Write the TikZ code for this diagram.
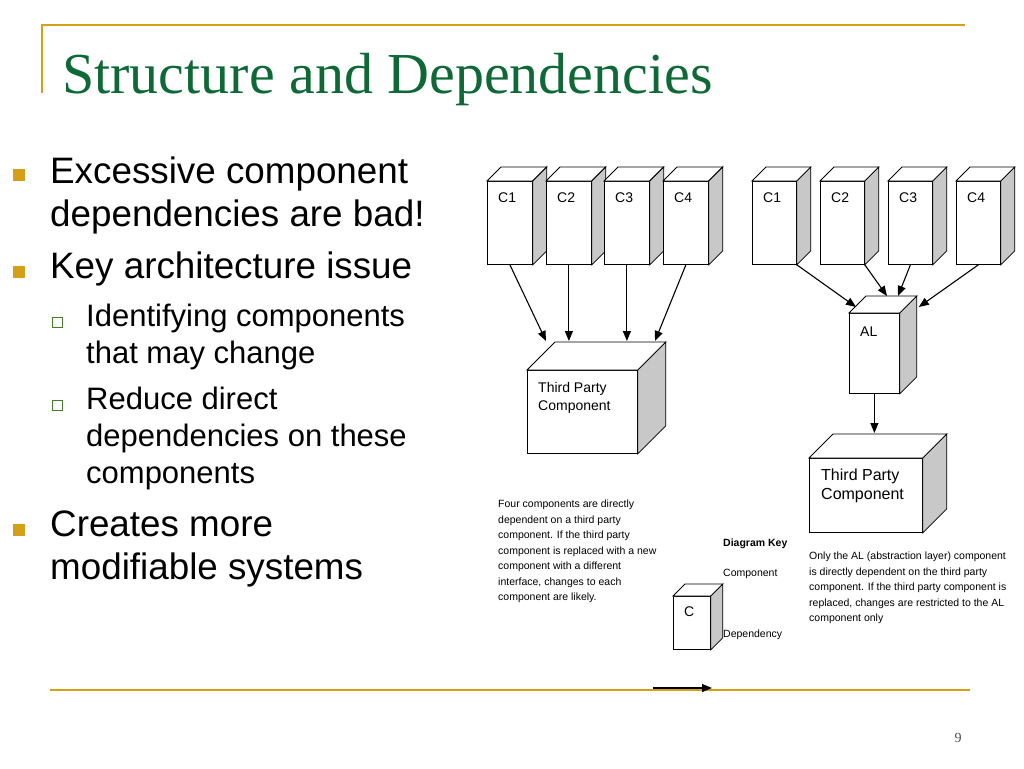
\documentclass[tikz,border=0pt]{standalone}
\usepackage{fontspec}
\setmainfont{Liberation Sans}
\newfontfamily\serifface{Liberation Serif}
\usetikzlibrary{positioning,calc,arrows.meta}

\definecolor{slidegold}{RGB}{212,160,23}
\definecolor{titlegreen}{RGB}{15,105,55}
\definecolor{subgreen}{RGB}{70,125,45}
\definecolor{sidegray}{RGB}{200,200,200}

\tikzset{
  front/.style={draw, fill=white, line width=0.8pt, anchor=north west, inner sep=0pt},
  sideface/.style={draw, fill=sidegray, line width=0.8pt},
  topface/.style={draw, fill=white, line width=0.8pt},
  dep/.style={-{Triangle[length=10pt,width=8pt]}, line width=1.1pt},
  boxtxt/.style={anchor=north west, inner sep=0pt, align=left, font=\fontsize{14}{18}\selectfont},
  note/.style={anchor=north west, inner sep=0pt, align=left, font=\fontsize{10.5}{15.5}\selectfont},
  bigitem/.style={anchor=base west, inner sep=0pt, align=left, font=\fontsize{36.8}{43}\selectfont},
  subitem/.style={anchor=base west, inner sep=0pt, align=left, font=\fontsize{31}{37}\selectfont},
  goldsq/.style={fill=slidegold, minimum size=12pt, inner sep=0pt},
  greensq/.style={draw=subgreen, fill=white, line width=1pt, minimum size=10pt, inner sep=0pt},
}

% top and side of a component box
\newcommand{\faces}[2]{%
  \draw[topface] (#1.north west) -- ++(#2,-#2) -- ($(#1.north east)+(#2,-#2)$) -- (#1.north east) -- cycle;
  \draw[sideface] (#1.north east) -- ++(#2,-#2) -- ($(#1.south east)+(#2,-#2)$) -- (#1.south east) -- cycle;
}

\begin{document}
\begin{tikzpicture}[x=1pt, y=-1pt]
    \useasboundingbox (0,0) rectangle (1024,768);

    % slide frame and title
    \draw[slidegold, line width=2pt] (965,25) -- (42,25) -- (42,93);
    \draw[slidegold, line width=2pt] (50,690) -- (970,690);
    \node[anchor=base west, inner sep=0pt, text=titlegreen, font=\serifface\fontsize{58}{60}\selectfont] (title) at (62,93) {Structure and Dependencies};

    % bullets (base = last line)
    \node[goldsq] (b1) at (19,175) {};
    \node[bigitem] (t1) at (50,226) {Excessive component\\dependencies are bad!};
    \node[goldsq] (b2) at (19,272) {};
    \node[bigitem] (t2) at (50,278) {Key architecture issue};
    \node[greensq] (s1) at (57,322) {};
    \node[subitem] (u1) at (86,363) {Identifying components\\that may change};
    \node[greensq] (s2) at (57,405) {};
    \node[subitem] (u2) at (86,483) {Reduce direct\\dependencies on these\\components};
    \node[goldsq] (b3) at (19,530) {};
    \node[bigitem] (t3) at (50,579) {Creates more\\modifiable systems};

    % direct dependencies
    \foreach \i/\x in {1/487,2/546,3/604,4/663}{
        \node[front, minimum width=45pt, minimum height=83pt] (l\i) at (\x,181) {};
        \faces{l\i}{14}
        \node[boxtxt] (l\i txt) at ($(l\i.north west)+(11,12)$) {C\i};
    }
    \node[front, minimum width=110pt, minimum height=83pt] (tpl) at (527,370) {};
    \faces{tpl}{28}
    \node[boxtxt] (tpltxt) at ($(tpl.north west)+(11,12)$) {Third Party\\Component};

    \coordinate (tplback) at ($(tpl.north west)+(0,-29)$);
    \coordinate (tplin1) at ($(tpl.north west)+(19,-29)$);
    \coordinate (tplin4) at ($(tpl.north west)+(128,-29)$);
    \draw[dep] (l1.south) -- (tplin1);
    \draw[dep] (l2.south) -- (l2.south |- tplback);
    \draw[dep] (l3.south) -- (l3.south |- tplback);
    \draw[dep] (l4.south) -- (tplin4);

    % through the abstraction layer
    \foreach \i/\x in {1/752,2/820,3/888,4/956}{
        \node[front, minimum width=44pt, minimum height=83pt] (r\i) at (\x,181) {};
        \faces{r\i}{14}
        \node[boxtxt] (r\i txt) at ($(r\i.north west)+(11,12)$) {C\i};
    }
    \node[front, minimum width=50pt, minimum height=80pt] (al) at (849,313) {};
    \faces{al}{17}
    \node[boxtxt] (altxt) at ($(al.north west)+(11,14)$) {AL};

    \node[front, minimum width=113pt, minimum height=74pt] (tpr) at (809,458) {};
    \faces{tpr}{24}
    \node[boxtxt, font=\fontsize{16}{19}\selectfont] (tprtxt) at ($(tpr.north west)+(12,11)$) {Third Party\\Component};

    \coordinate (alin1) at ($(al.north west)+(7,-6)$);
    \coordinate (alin2) at ($(al.north west)+(38,-17)$);
    \coordinate (alin3) at ($(al.north west)+(49,-17)$);
    \coordinate (alin4) at ($(al.north east)+(19,-6)$);
    \coordinate (tprback) at ($(tpr.north west)+(0,-25)$);
    \draw[dep] (r1.south east) -- (alin1);
    \draw[dep] (r2.south east) -- (alin2);
    \draw[dep] (r3.south) -- (alin3);
    \draw[dep] (r4.south) -- (alin4);
    \draw[dep] (al.south) -- (al.south |- tprback);

    % notes
    \node[note] (leftnote) at (498,500) {Four components are directly\\dependent on a third party\\component. If the third party\\component is replaced with a new\\component with a different\\interface, changes to each\\component are likely.};
    \node[note] (rightnote) at (809,552) {Only the AL (abstraction layer) component\\is directly dependent on the third party\\component. If the third party component is\\replaced, changes are restricted to the AL\\component only};

    % diagram key
    \node[note, font=\bfseries\fontsize{10.5}{15.5}\selectfont] (keyhead) at (723,539) {Diagram Key};
    \node[note] (keycomp) at (723,569) {Component};
    \node[note] (keydep) at (723,630) {Dependency};
    \node[front, minimum width=37pt, minimum height=53pt] (keyc) at (673,596) {};
    \faces{keyc}{12}
    \node[boxtxt] (keyctxt) at ($(keyc.north west)+(11,11)$) {C};
    \coordinate (keya) at (653,688);
    \coordinate (keyb) at (712,688);
    \draw[dep] (keya) -- (keyb);

    \node[anchor=base, inner sep=0pt, text=black!70, font=\serifface\fontsize{14}{14}\selectfont] (pagenum) at (958,742) {9};
\end{tikzpicture}
\end{document}
